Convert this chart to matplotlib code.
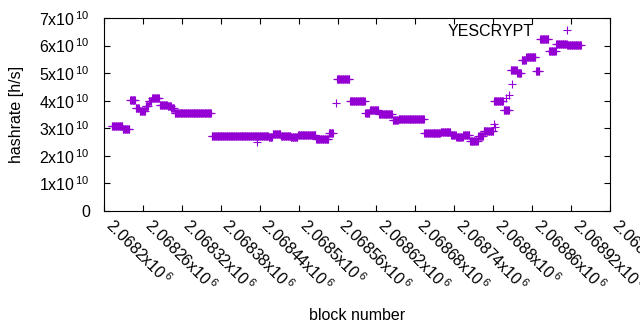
import numpy as np
import matplotlib
matplotlib.use("Agg")
import matplotlib.pyplot as plt

plt.rcParams["font.family"] = ["Liberation Sans", "DejaVu Sans"]
plt.rcParams["mathtext.fontset"] = "custom"
plt.rcParams["mathtext.rm"] = "Liberation Sans"
plt.rcParams["mathtext.default"] = "regular"

# runs of constant hashrate: first block, last block, rate (x1e10 h/s)
seg_start = [2068212, 2068229, 2068240, 2068249, 2068255, 2068264, 2068269, 2068274,
             2068286, 2068298, 2068304, 2068309, 2068366, 2068439, 2068454, 2068460,
             2068473, 2068488, 2068499, 2068527, 2068535, 2068547, 2068559, 2068579,
             2068603, 2068610, 2068624, 2068645, 2068654, 2068694, 2068719, 2068735,
             2068743, 2068754, 2068764, 2068777, 2068785, 2068801, 2068816, 2068827,
             2068837, 2068844, 2068851, 2068866, 2068872, 2068886, 2068897, 2068914]
seg_end = [2068228, 2068239, 2068248, 2068254, 2068263, 2068268, 2068273, 2068285,
           2068297, 2068303, 2068308, 2068365, 2068438, 2068453, 2068459, 2068472,
           2068487, 2068498, 2068526, 2068534, 2068546, 2068553, 2068578, 2068602,
           2068609, 2068623, 2068644, 2068653, 2068693, 2068718, 2068734, 2068742,
           2068753, 2068763, 2068776, 2068784, 2068800, 2068815, 2068824, 2068836,
           2068843, 2068850, 2068865, 2068871, 2068885, 2068896, 2068913, 2068935]
seg_rate = [3.08, 2.97, 4.02, 3.75, 3.63, 3.80, 3.98, 4.10,
            3.86, 3.80, 3.72, 3.54, 2.71, 2.73, 2.67, 2.78,
            2.71, 2.68, 2.76, 2.62, 2.61, 2.84, 4.78, 3.98,
            3.55, 3.65, 3.52, 3.29, 3.33, 2.82, 2.85, 2.76,
            2.67, 2.75, 2.54, 2.72, 2.89, 3.99, 3.66, 5.11,
            5.02, 5.47, 5.59, 5.08, 6.24, 5.82, 6.05, 6.02]

# single outlying estimates
pt_block = [2068436, 2068557, 2068801, 2068802, 2068820, 2068824, 2068829]
pt_rate = [2.50, 3.92, 3.15, 3.05, 4.10, 4.20, 4.60]

xticks = [2068200, 2068260, 2068320, 2068380, 2068440, 2068500, 2068560,
          2068620, 2068680, 2068740, 2068800, 2068860, 2068920, 2068980]
xlabels = ["2.0682", "2.06826", "2.06832", "2.06838", "2.06844", "2.0685", "2.06856",
           "2.06862", "2.06868", "2.06874", "2.0688", "2.06886", "2.06892", "2.06898"]
yticks = [0, 1, 2, 3, 4, 5, 6, 7]

blocks = np.concatenate([np.arange(a, b + 1) for a, b in zip(seg_start, seg_end)] + [pt_block])
rates = np.concatenate([np.full(b - a + 1, r) for a, b, r in zip(seg_start, seg_end, seg_rate)] + [pt_rate])

fig = plt.figure(figsize=(6.4, 3.3), dpi=100)
ax = fig.add_axes([104 / 640, 1 - 211 / 330, 506 / 640, 193 / 330])

ax.plot(blocks, rates * 1e10, ls="none", marker="+", ms=5.5, mew=0.8,
        color="#9400d3", label="YESCRYPT")

ax.set_xlim(2068200, 2068980)
ax.set_ylim(0, 7e10)
ax.set_xticks(xticks)
ax.set_xticklabels([l + r"x10$^{\,6}$" for l in xlabels], rotation=-45,
                   ha="left", va="baseline", rotation_mode="anchor", fontsize=11.5)
ax.set_yticks([v * 1e10 for v in yticks])
ax.set_yticklabels(["0"] + [f"{v}x10" + r"$^{\,10}$" for v in yticks[1:]], fontsize=11.5)

ax.tick_params(direction="in", top=True, right=True, length=4, width=0.8)
ax.tick_params(axis="y", pad=10)
ax.tick_params(axis="x", pad=11)
for sp in ax.spines.values():
    sp.set_linewidth(0.8)

ax.set_xlabel("block number", fontsize=11.5)
ax.xaxis.set_label_coords(0.5, -0.50)
ax.set_ylabel("hashrate [h/s]", fontsize=11.5, va="center")
ax.yaxis.set_label_coords(-0.173, 0.5)

ax.legend(loc="center right", bbox_to_anchor=(583 / 640, 1 - 31 / 330),
          bbox_transform=fig.transFigure, frameon=False, markerfirst=False,
          borderpad=0, borderaxespad=0, handlelength=2, handletextpad=1.1,
          numpoints=1, fontsize=11.5)

fig.savefig("out.png", dpi=100)
